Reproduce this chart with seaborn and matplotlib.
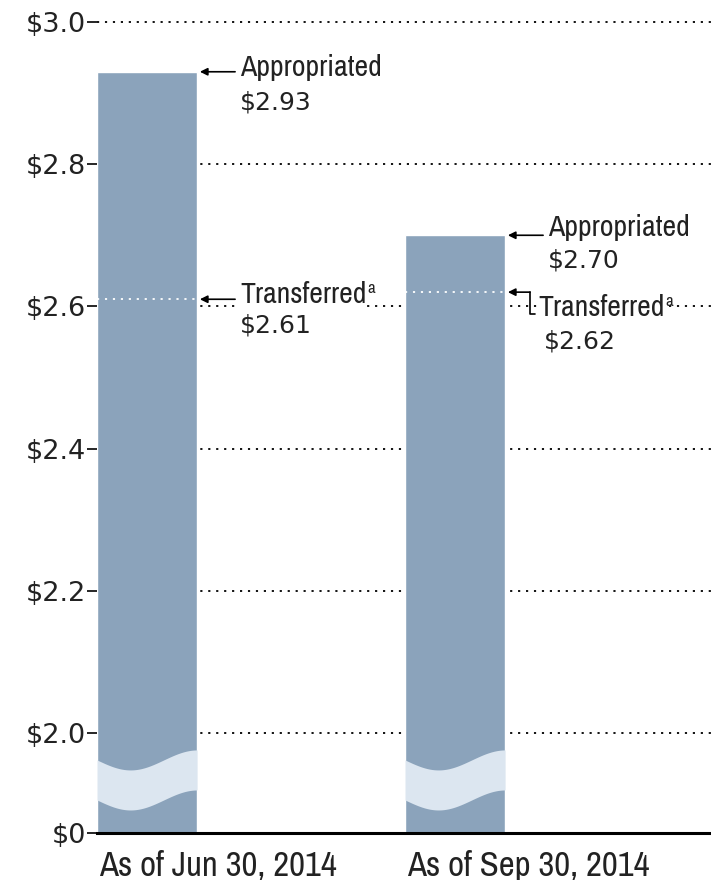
import numpy as np
import matplotlib
matplotlib.use("Agg")
import matplotlib.pyplot as plt
import matplotlib.transforms as mtransforms
from matplotlib import font_manager
import seaborn as sns

# данные
periods = ['As of Jun 30, 2014', 'As of Sep 30, 2014']
appropriated = [2.93, 2.70]
transferred = [2.61, 2.62]
tick_values = [0, 2.0, 2.2, 2.4, 2.6, 2.8, 3.0]
tick_labels = ['$0', '$2.0', '$2.2', '$2.4', '$2.6', '$2.8', '$3.0']

bar_color = '#8ba3bb'
band_color = '#dce6f0'
text_color = '#222222'

sns.set_theme(style='white')
plt.rcParams['font.family'] = ['DejaVu Sans']

# поиск узкого шрифта
def find_narrow():
    fonts = font_manager.fontManager.ttflist
    for f in fonts:
        if f.name == 'Liberation Sans Narrow' and f.weight in (400, 'normal') and f.style == 'normal':
            return f.fname, 1.0
    for f in fonts:
        if 'Narrow' in f.name and f.style == 'normal':
            return f.fname, 1.0
    for f in fonts:
        if f.name == 'DejaVu Sans' and 'ondensed' in f.fname and f.style == 'normal' \
                and 'Bold' not in f.fname:
            return f.fname, 0.88
    return None, 0.8

narrow_file, narrow_scale = find_narrow()
def narrow_fp(size):
    if narrow_file:
        return font_manager.FontProperties(fname=narrow_file, size=size * narrow_scale)
    return font_manager.FontProperties(family='DejaVu Sans', size=size * narrow_scale)

# сжатая часть оси от 0 до 2
K = 0.0704
def fwd(v):
    v = np.asarray(v, dtype=float)
    return np.where(v >= 2, v, 2 - (2 - v) * K)
def inv(u):
    u = np.asarray(u, dtype=float)
    return np.where(u >= 2, u, 2 - (2 - u) / K)

fig = plt.figure(figsize=(7.11, 8.8), dpi=100)
ax = fig.add_axes([97 / 711, 1 - 833 / 880, 614 / 711, 811 / 880])

sns.barplot(x=periods, y=appropriated, color=bar_color, width=0.325,
            saturation=1, ax=ax, zorder=2)
ax.set_yscale('function', functions=(fwd, inv))
ax.set_ylim(0, 3.0)
ax.set_xlim(-0.1625, 1.831)
ax.set_yticks(tick_values)
ax.set_yticklabels(tick_labels)
ax.set_xlabel('')
ax.set_ylabel('')

# пунктирная сетка
for v in tick_values:
    if v >= 2:
        ax.axhline(v, color='black', lw=1.3, ls=(0, (1.2, 3.2)), zorder=1, clip_on=False)

for s in ['left', 'top', 'right']:
    ax.spines[s].set_visible(False)
ax.spines['bottom'].set_color('black')
ax.spines['bottom'].set_linewidth(2.2)
ax.spines['bottom'].set_zorder(4)
ax.tick_params(axis='y', length=7, width=1.2, color='black', labelsize=19.5, pad=1,
               left=True, labelcolor=text_color)
ax.tick_params(axis='x', length=0, pad=12)
for lab in ax.get_xticklabels():
    lab.set_fontproperties(narrow_fp(25))
    lab.set_color(text_color)
    lab.set_horizontalalignment('left')
# подписи по левому краю столбцов
shift = mtransforms.ScaledTranslation(-48 / 100, 0, fig.dpi_scale_trans)
for lab in ax.get_xticklabels():
    lab.set_transform(lab.get_transform() + shift)

# волнистый разрыв и линии transferred
t = np.linspace(0, 1, 60)
wave = 0.2 * np.sin(1.5 * np.pi * t)
for patch, tr in zip(ax.patches, transferred):
    x0 = patch.get_x()
    w = patch.get_width()
    xs = x0 + t * w
    ax.fill_between(xs, 0.66 - wave, 1.46 - wave, color=band_color, lw=0, zorder=3)
    ax.plot([x0, x0 + w], [tr, tr], color='white', lw=1.3, ls=(0, (1.2, 3.2)), zorder=3)

arrow = dict(arrowstyle='-|>', color='black', lw=1.2, mutation_scale=11,
             shrinkA=0, shrinkB=2)

def label(x, y, word, value, dx, dy_word, dy_val, dval_x=0, arrow_len=38, sup=False):
    ax.annotate('', xy=(x, y), xytext=(arrow_len, 0), textcoords='offset pixels',
                arrowprops=arrow, zorder=5)
    txt = ax.annotate(word, xy=(x, y), xytext=(dx, dy_word), textcoords='offset pixels',
                      ha='left', va='baseline', fontproperties=narrow_fp(21.5),
                      color=text_color, zorder=5,
                      bbox=dict(fc='white', ec='none', pad=0.5))
    if sup:
        # верхний индекс справа от слова
        fig.canvas.draw()
        bb = txt.get_window_extent()
        base = ax.transData.transform((x, y))
        ax.annotate('a', xy=(x, y), xytext=(bb.x1 - base[0] + 1, dy_word + 10),
                    textcoords='offset pixels', ha='left', va='baseline',
                    fontproperties=narrow_fp(12), color=text_color, zorder=5)
    ax.annotate(value, xy=(x, y), xytext=(dx + dval_x, dy_val), textcoords='offset pixels',
                ha='left', va='baseline', fontsize=18, color=text_color, zorder=5)

for patch, ap, tr, i in zip(ax.patches, appropriated, transferred, range(2)):
    edge = patch.get_x() + patch.get_width()
    if i == 0:
        label(edge, ap, 'Appropriated', f'${ap:.2f}', 43, -4, -38)
        label(edge, tr, 'Transferred', f'${tr:.2f}', 43, -4, -33, sup=True)
    else:
        label(edge, ap, 'Appropriated', f'${ap:.2f}', 43, -1, -32)
        label(edge, tr, 'Transferred', f'${tr:.2f}', 33, -24, -56,
              dval_x=6, arrow_len=25, sup=True)
        pts = []
        for dx, dy in [(25, 0), (25, -22), (30, -22)]:
            off = mtransforms.offset_copy(ax.transData, fig=fig, x=dx, y=dy, units='dots')
            pts.append(off.transform((edge, tr)))
        pts = np.array(pts)
        ax.plot(pts[:, 0], pts[:, 1], color='black', lw=1.2, transform=None, zorder=5)

fig.savefig('out.png', dpi=100, facecolor='white')
